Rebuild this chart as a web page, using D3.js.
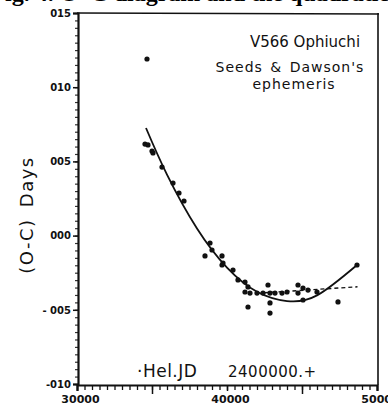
<!DOCTYPE html>
<html>
<head>
<meta charset="utf-8">
<script src="https://cdn.jsdelivr.net/npm/d3@7"></script>
<style>
  body { margin: 0; background: #fff; }
  svg { display: block; }
  .lbl { font-family: "DejaVu Sans", sans-serif; fill: #111; }
  .tick text { font-family: "DejaVu Sans", sans-serif; font-weight: bold; fill: #111; }
</style>
</head>
<body>
<div id="chart"></div>
<script>
// observed times of minimum (Hel. JD - 2400000) and O-C residuals (days)
var obsJD = [34667, 34533, 34733, 35000, 35067, 35667, 36400, 36800, 37133,
  38867, 38533, 39000, 39667, 39733, 39667, 40400, 40733, 41200, 41200, 41400,
  41533, 41400, 42000, 42400, 42733, 42867, 42867, 42867, 43200, 43667, 44000,
  44733, 44733, 45067, 45400, 45067, 46000, 47400, 48667];
var obsOC = [0.119, 0.0617, 0.0611, 0.0570, 0.0557, 0.0462, 0.0354, 0.0287, 0.0233,
  -0.0050, -0.0137, -0.0097, -0.0137, -0.0185, -0.0198, -0.0232, -0.0299, -0.0313, -0.0380, -0.0346,
  -0.0387, -0.0481, -0.0387, -0.0387, -0.0333, -0.0387, -0.0454, -0.0522, -0.0387, -0.0387, -0.0380,
  -0.0333, -0.0387, -0.0353, -0.0367, -0.0434, -0.0380, -0.0447, -0.0198];

// quadratic ephemeris curve (solid)
var fitJD = [34600, 36000, 38000, 40000, 42000, 44000, 46000, 48667];
var fitOC = [0.0725, 0.0411, 0.0048, -0.0215, -0.0378, -0.0441, -0.0403, -0.0198];

// dashed line at the right
var dashJD = [42500, 48700];
var dashOC = [-0.0385, -0.0345];

var xMajor = [30000, 40000, 50000];
var xMajorLabels = ["30000", "40000", "50000"];
var xMid = [35000, 45000];
var yMajor = [0.15, 0.10, 0.05, 0.00, -0.05, -0.10];
var yMajorLabels = ["015", "010", "005", "000", "- 005", "-010"];

var svgWidth = 388;
var svgHeight = 411;

var svg = d3.select("#chart")
  .append("svg")
  .attr("width", svgWidth)
  .attr("height", svgHeight);

var x = d3.scaleLinear().domain([30000, 50000]).range([77, 377]);
var y = d3.scaleLinear().domain([-0.10, 0.15]).range([384, 13]);

// clipped caption line from the page above the figure
svg.append("text")
  .attr("x", 389)
  .attr("y", 1)
  .attr("text-anchor", "end")
  .style("font-family", "'Liberation Serif', serif")
  .style("font-size", "24px")
  .style("font-weight", "bold")
  .text("Fig. 4. O–C diagram and the quadratic");

// frame
svg.append("line").attr("x1", 77).attr("x2", 379).attr("y1", 13).attr("y2", 14)
  .attr("stroke", "#111").attr("stroke-width", 1.6);
svg.append("line").attr("x1", 378).attr("x2", 378).attr("y1", 13).attr("y2", 385)
  .attr("stroke", "#111").attr("stroke-width", 1.6);

// left axis: minor dotted ticks
var minorY = d3.range(-0.10, 0.1501, 0.005);
svg.append("g")
  .attr("transform", "translate(78,0)")
  .call(d3.axisLeft(y).tickValues(minorY).tickSize(3).tickFormat(""))
  .call(g => g.select(".domain").remove())
  .selectAll("line").attr("stroke", "#333").attr("stroke-width", 1.2);

var yAxis = svg.append("g")
  .attr("transform", "translate(78,0)")
  .call(d3.axisLeft(y).tickValues(yMajor).tickSize(5).tickPadding(2)
    .tickFormat((d, i) => yMajorLabels[i]));
yAxis.select(".domain").attr("stroke", "#111").attr("stroke-width", 2.2);
yAxis.selectAll("line").attr("stroke", "#111").attr("stroke-width", 1.5);
yAxis.selectAll("text").style("font-size", "10px");

// bottom axis: minor ticks every 500
var minorX = d3.range(30000, 50001, 500);
svg.append("g")
  .attr("transform", "translate(0,385)")
  .call(d3.axisBottom(x).tickValues(minorX).tickSize(5).tickFormat(""))
  .call(g => g.select(".domain").remove())
  .selectAll("line").attr("stroke", "#111").attr("stroke-width", 1.3);

svg.append("g")
  .attr("transform", "translate(0,385)")
  .call(d3.axisBottom(x).tickValues(xMid).tickSize(9).tickFormat(""))
  .call(g => g.select(".domain").remove())
  .selectAll("line").attr("stroke", "#111").attr("stroke-width", 1.5);

var xAxis = svg.append("g")
  .attr("transform", "translate(0,385)")
  .call(d3.axisBottom(x).tickValues(xMajor).tickSize(6).tickPadding(4)
    .tickFormat((d, i) => xMajorLabels[i]));
xAxis.select(".domain").attr("stroke", "#111").attr("stroke-width", 2.2);
xAxis.selectAll("line").attr("stroke", "#111").attr("stroke-width", 1.5);
xAxis.selectAll("text").style("font-size", "11px").attr("dx", 3);

// fit curves
var line = d3.line()
  .x(d => x(d[0]))
  .y(d => y(d[1]))
  .curve(d3.curveNatural);

svg.append("path")
  .datum(fitJD.map((d, i) => [d, fitOC[i]]))
  .attr("d", line)
  .attr("fill", "none")
  .attr("stroke", "#111")
  .attr("stroke-width", 1.8);

svg.append("path")
  .datum(dashJD.map((d, i) => [d, dashOC[i]]))
  .attr("d", d3.line().x(d => x(d[0])).y(d => y(d[1])))
  .attr("fill", "none")
  .attr("stroke", "#111")
  .attr("stroke-width", 1.4)
  .attr("stroke-dasharray", "4,3");

// observations
svg.append("g")
  .selectAll("circle")
  .data(obsJD.map((d, i) => [d, obsOC[i]]))
  .enter()
  .append("circle")
  .attr("cx", d => x(d[0]))
  .attr("cy", d => y(d[1]))
  .attr("r", 2.6)
  .attr("fill", "#111");

// annotations
svg.append("text").attr("class", "lbl")
  .attr("x", 305).attr("y", 47).attr("text-anchor", "middle")
  .style("font-size", "15px").text("V566 Ophiuchi");
svg.append("text").attr("class", "lbl")
  .attr("x", 290).attr("y", 72).attr("text-anchor", "middle")
  .style("font-size", "14px").style("letter-spacing", "1px").style("word-spacing", "2px")
  .text("Seeds & Dawson's");
svg.append("text").attr("class", "lbl")
  .attr("x", 294).attr("y", 89).attr("text-anchor", "middle")
  .style("font-size", "14px").style("letter-spacing", "1px").text("ephemeris");

svg.append("text").attr("class", "lbl")
  .attr("x", 137).attr("y", 377)
  .style("font-size", "17px").style("letter-spacing", "0.5px").text("·Hel.JD");
svg.append("text").attr("class", "lbl")
  .attr("x", 228).attr("y", 377)
  .style("font-size", "15px").style("letter-spacing", "0.5px").text("2400000.+");

svg.append("text").attr("class", "lbl")
  .attr("transform", "translate(33,215) rotate(-90)")
  .attr("text-anchor", "middle")
  .style("font-size", "18px").style("letter-spacing", "1.5px").style("word-spacing", "4px")
  .text("(O-C) Days");
</script>
</body>
</html>
